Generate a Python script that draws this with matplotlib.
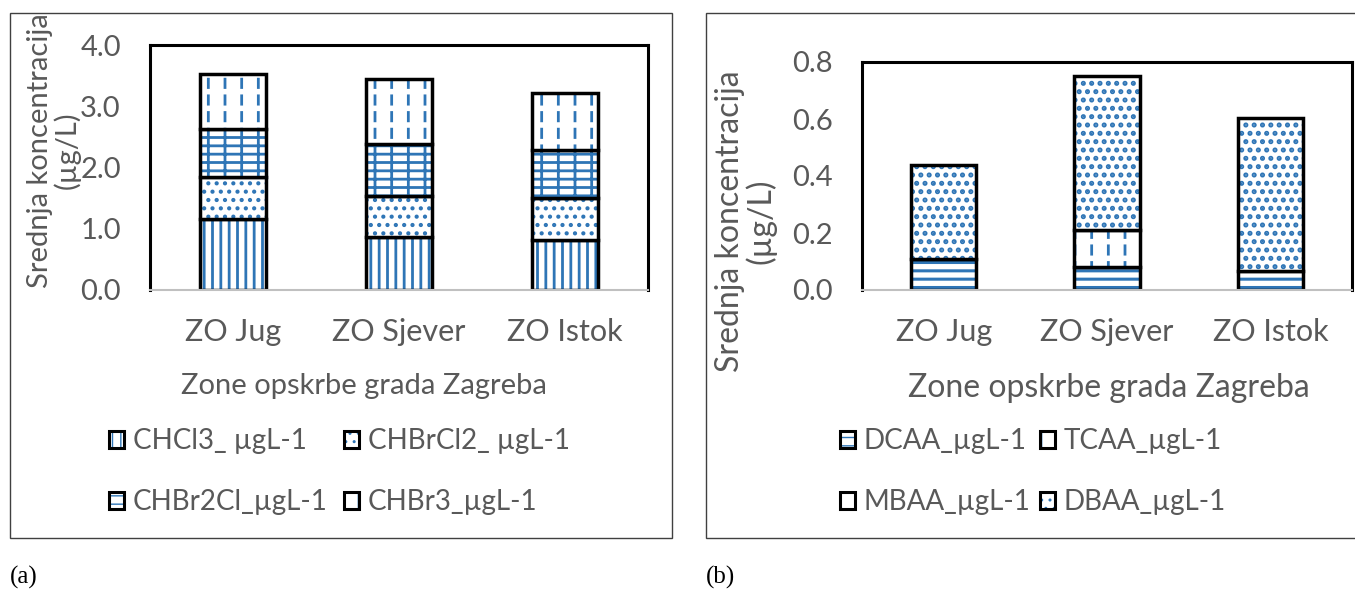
import numpy as np
import matplotlib
matplotlib.use("Agg")
import matplotlib.pyplot as plt
from matplotlib.patches import Patch, Rectangle
from matplotlib.legend_handler import HandlerTuple

# ---- data ----
zones = ["ZO Jug", "ZO Sjever", "ZO Istok"]

thm_names = ["CHCl3_ µgL-1", "CHBrCl2_ µgL-1", "CHBr2Cl_µgL-1", "CHBr3_µgL-1"]
chcl3 = [1.16, 0.87, 0.81]
chbrcl2 = [0.69, 0.67, 0.70]
chbr2cl = [0.78, 0.84, 0.77]
chbr3 = [0.90, 1.06, 0.93]

haa_names = ["DCAA_µgL-1", "TCAA_µgL-1", "MBAA_µgL-1", "DBAA_µgL-1"]
dcaa = [0.11, 0.08, 0.065]
tcaa = [0.0, 0.13, 0.0]
mbaa = [0.0, 0.0, 0.0]
dbaa = [0.33, 0.54, 0.54]

BLUE = "#2E75B6"
GREY = "#595959"
W, H = 1355, 592

plt.rcParams["font.family"] = ["Lato", "DejaVu Sans"]

# (hatch pattern, hatch line width, vertical lines broken into dashes?)
THM_STYLE = [("||", 2.0, False), ("..", 1.8, False), ("+-", 2.0, False),
             ("|", 2.0, True)]
HAA_STYLE = [("--", 2.2, False), ("|", 2.0, True), ("x", 2.0, False),
             ("..", 2.4, False)]


def draw_segment(ax, x, h, bottom, hatch, hlw, dashed, width=0.4):
    with plt.rc_context({"hatch.linewidth": hlw}):
        ax.bar(x, h, width, bottom=bottom, color="white", edgecolor=BLUE,
               hatch=hatch, linewidth=0)
    if dashed:
        # white bands across the vertical lines turn them into dashes
        with plt.rc_context({"hatch.linewidth": 4.0}):
            ax.bar(x, h, width, bottom=bottom, fill=False, edgecolor="white",
                   hatch="-", linewidth=0)
    ax.bar(x, h, width, bottom=bottom, fill=False, edgecolor="black",
           linewidth=2.5)


def panel(ax, series, names, styles, ymax, ystep, ylab_xy, xlab_xy, labsize):
    x = np.arange(len(zones))
    bottom = np.zeros(len(zones))
    for vals, (hatch, hlw, dashed) in zip(series, styles):
        vals = np.asarray(vals)
        mask = vals > 0
        draw_segment(ax, x[mask], vals[mask], bottom[mask], hatch, hlw, dashed)
        bottom = bottom + vals
    ax.set_xlim(-0.5, len(zones) - 0.5)
    ax.set_ylim(0, ymax)
    ax.set_yticks(np.arange(0, ymax + 1e-9, ystep))
    ax.yaxis.set_major_formatter(matplotlib.ticker.FormatStrFormatter("%.1f"))
    ax.set_xticks(x)
    ax.set_xticklabels(zones)
    ax.tick_params(length=0, labelsize=21, labelcolor=GREY)
    ax.tick_params(axis="x", pad=20, labelsize=22)
    ax.tick_params(axis="y", pad=21)
    for s in ["left", "top", "right"]:
        ax.spines[s].set_linewidth(2.2)
        ax.spines[s].set_color("black")
    ax.spines["bottom"].set_color("#c0c0c0")
    ax.spines["bottom"].set_linewidth(1.5)
    ax.set_xlabel("Zone opskrbe grada Zagreba", fontsize=labsize, color=GREY)
    ax.xaxis.set_label_coords(*xlab_xy)
    ax.set_ylabel("Srednja koncentracija\n(µg/L)", fontsize=labsize, color=GREY,
                  linespacing=1.0)
    ax.yaxis.set_label_coords(*ylab_xy)

    # legend handles: blue hatch with black square outline
    handles = []
    for hatch, hlw, dashed in styles:
        inner = Patch(facecolor="white", edgecolor=BLUE, hatch=hatch, linewidth=0)
        outer = Patch(facecolor="none", edgecolor="black", linewidth=2.2)
        handles.append((inner, outer))
    # two rows, filled row-wise
    order = [0, 2, 1, 3]
    return [handles[i] for i in order], [names[i] for i in order]


fig = plt.figure(figsize=(W / 100, H / 100), dpi=100)

ax1 = fig.add_axes([150 / W, 1 - 290 / H, (648 - 150) / W, (290 - 45) / H])
h1, l1 = panel(ax1, [chcl3, chbrcl2, chbr2cl, chbr3], thm_names, THM_STYLE,
               4.0, 1.0, ylab_xy=(-0.14, 0.57), xlab_xy=(0.43, -0.34),
               labsize=21)
ax2 = fig.add_axes([862 / W, 1 - 290 / H, (1352 - 862) / W, (290 - 62) / H])
h2, l2 = panel(ax2, [dcaa, tcaa, mbaa, dbaa], haa_names, HAA_STYLE,
               0.8, 0.2, ylab_xy=(-0.174, 0.30), xlab_xy=(0.504, -0.364),
               labsize=23)

leg_kw = dict(ncol=2, frameon=False, fontsize=20, labelcolor=GREY,
              handler_map={tuple: HandlerTuple(ndivide=1, pad=0)},
              handlelength=0.55, handleheight=0.55, handletextpad=0.3,
              labelspacing=1.27, loc="upper left")
fig.legend(h1, l1, bbox_to_anchor=(84 / W, 1 - 403 / H), columnspacing=0.6,
           **leg_kw)
fig.legend(h2, l2, bbox_to_anchor=(815 / W, 1 - 403 / H), columnspacing=0.35,
           **leg_kw)

# outer chart frames
for x0, x1 in [(10, 672), (706, 1356)]:
    fig.add_artist(Rectangle((x0 / W, 1 - 538 / H), (x1 - x0) / W, (538 - 13) / H,
                             transform=fig.transFigure, fill=False,
                             edgecolor="#404040", linewidth=1.0))

fig.text(10 / W, 1 - 577 / H, "(a)", family="Liberation Serif", fontsize=18,
         va="center", ha="left")
fig.text(706 / W, 1 - 577 / H, "(b)", family="Liberation Serif", fontsize=18,
         va="center", ha="left")

fig.savefig("out.png", dpi=100)
